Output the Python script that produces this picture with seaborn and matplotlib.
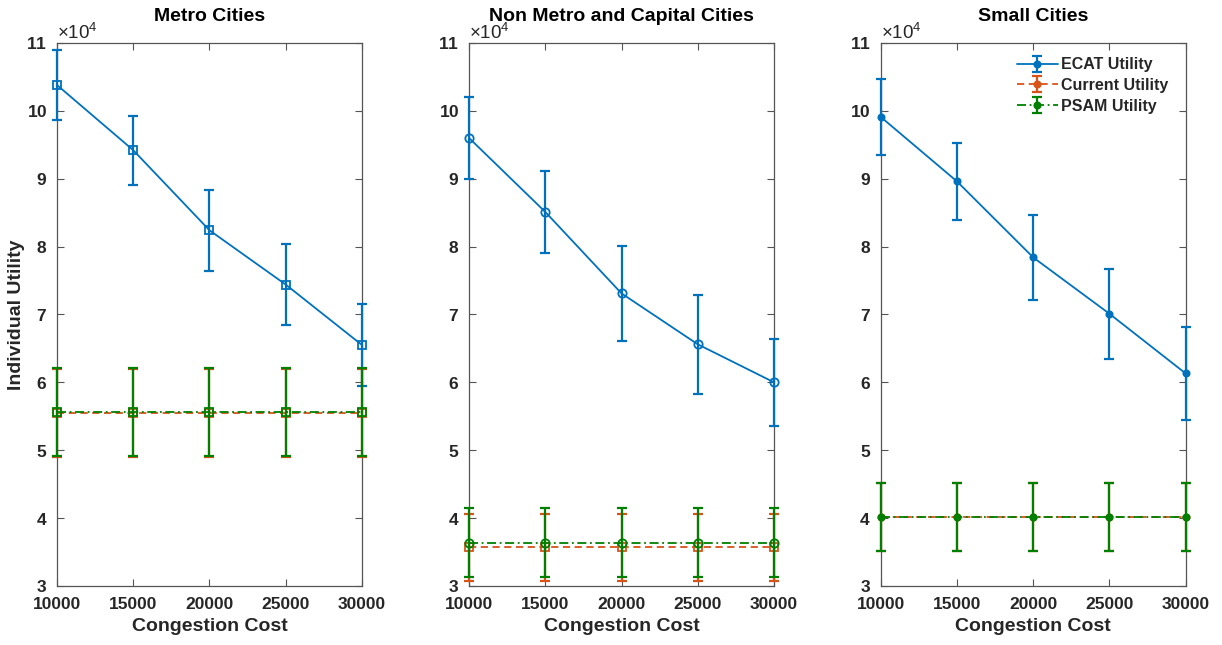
import numpy as np
import pandas as pd
import matplotlib
matplotlib.use("Agg")
import matplotlib.pyplot as plt
import seaborn as sns

# ---------------- data ----------------
congestion_cost = [10000, 15000, 20000, 25000, 30000]
panel_titles = ["Metro Cities", "Non Metro and Capital Cities", "Small Cities"]
series_names = ["ECAT Utility", "Current Utility", "PSAM Utility"]

metro_ecat = [103800, 94200, 82400, 74400, 65500]
metro_ecat_err = [5100, 5100, 6000, 6000, 6000]
metro_current = [55500, 55500, 55500, 55500, 55500]
metro_current_err = [6500, 6500, 6500, 6500, 6500]
metro_psam = [55600, 55600, 55600, 55600, 55600]
metro_psam_err = [6500, 6500, 6500, 6500, 6500]

nonmetro_ecat = [96000, 85100, 73100, 65600, 60000]
nonmetro_ecat_err = [6100, 6100, 7000, 7300, 6400]
nonmetro_current = [35700, 35700, 35700, 35700, 35700]
nonmetro_current_err = [4950, 4950, 4950, 4950, 4950]
nonmetro_psam = [36400, 36400, 36400, 36400, 36400]
nonmetro_psam_err = [5150, 5150, 5150, 5150, 5150]

small_ecat = [99100, 89600, 78400, 70100, 61300]
small_ecat_err = [5600, 5700, 6300, 6600, 6800]
small_current = [40100, 40100, 40100, 40100, 40100]
small_current_err = [5000, 5000, 5000, 5000, 5000]
small_psam = [40100, 40100, 40100, 40100, 40100]
small_psam_err = [5000, 5000, 5000, 5000, 5000]

x_ticks = [10000, 15000, 20000, 25000, 30000]
y_ticks = [30000, 40000, 50000, 60000, 70000, 80000, 90000, 100000, 110000]

# ---------------- style ----------------
sns.set_theme(style="ticks")
plt.rcParams["font.family"] = ["Liberation Sans", "DejaVu Sans"]
plt.rcParams["mathtext.fontset"] = "custom"
plt.rcParams["mathtext.rm"] = "Liberation Sans"
plt.rcParams["mathtext.default"] = "regular"

colors = ["#0072BD", "#D95319", "#008000"]
linestyles = ["-", (0, (4, 2.5)), (0, (5, 2, 1, 2))]

panels = [
    (metro_ecat, metro_ecat_err, metro_current, metro_current_err, metro_psam, metro_psam_err,
     ["s", "s", "s"], [False, False, False]),
    (nonmetro_ecat, nonmetro_ecat_err, nonmetro_current, nonmetro_current_err, nonmetro_psam, nonmetro_psam_err,
     ["o", "s", "o"], [False, False, False]),
    (small_ecat, small_ecat_err, small_current, small_current_err, small_psam, small_psam_err,
     ["o", "o", "o"], [True, True, True]),
]

fig = plt.figure(figsize=(12.22, 6.45), dpi=100)
lefts = [0.0466, 0.3838, 0.7207]
width = 0.2496
bottom = 0.0915
height = 0.842

axes_color = "#262626"

for i, (e, ee, c, ce, p, pe, markers, filled) in enumerate(panels):
    ax = fig.add_axes([lefts[i], bottom, width, height])
    handles = []
    for j, (yv, yerr) in enumerate([(e, ee), (c, ce), (p, pe)]):
        df = pd.DataFrame({"cost": congestion_cost, "utility": yv})
        ms = 4.5 if filled[j] else 6
        sns.lineplot(data=df, x="cost", y="utility", ax=ax, color=colors[j],
                     linestyle=linestyles[j], linewidth=1.3, marker=markers[j],
                     markersize=ms,
                     markerfacecolor=colors[j] if filled[j] else "none",
                     markeredgecolor=colors[j], markeredgewidth=1.3,
                     legend=False, zorder=3 + j, clip_on=False)
        line = ax.lines[-1]
        eb = ax.errorbar(congestion_cost, yv, yerr=yerr, fmt="none",
                         ecolor=colors[j], elinewidth=1.6, capsize=3.6,
                         capthick=1.6, zorder=3 + j)
        for art in eb.lines[1] + eb.lines[2]:
            art.set_clip_on(False)
        handles.append((line, eb))

    ax.set_xlim(10000, 30000)
    ax.set_ylim(30000, 110000)
    ax.set_xticks(x_ticks)
    ax.set_yticks(y_ticks)
    ax.ticklabel_format(axis="y", style="sci", scilimits=(4, 4), useMathText=True)
    ax.yaxis.get_offset_text().set_fontsize(13.5)
    ax.yaxis.get_offset_text().set_color(axes_color)
    ax.tick_params(axis="both", which="both", direction="in", length=5, width=0.8,
                   top=True, right=True, color="#555555", labelsize=12.5,
                   labelcolor=axes_color)
    ax.tick_params(axis="x", pad=8)
    ax.tick_params(axis="y", pad=7)
    for lbl in ax.get_xticklabels() + ax.get_yticklabels():
        lbl.set_fontweight("bold")
    for sp in ax.spines.values():
        sp.set_visible(True)
        sp.set_color("#555555")
        sp.set_linewidth(0.9)
    ax.text(0.5, 1.048, panel_titles[i], transform=ax.transAxes, ha="center",
            va="center", fontsize=14, fontweight="bold", color="black")
    ax.set_xlabel("Congestion Cost", fontsize=14, fontweight="bold", color=axes_color, labelpad=4)
    if i == 0:
        ax.set_ylabel("Individual Utility", fontsize=14, fontweight="bold", color=axes_color, labelpad=1)
    else:
        ax.set_ylabel("")
    if i == 2:
        ax.legend(handles=handles, labels=series_names, loc="upper right",
                  frameon=False, prop={"weight": "bold", "size": 11.5},
                  handlelength=2.6, handletextpad=0.2, labelspacing=0.35,
                  borderaxespad=0.0, bbox_to_anchor=(0.965, 0.985))

fig.savefig("out.png", dpi=100)
